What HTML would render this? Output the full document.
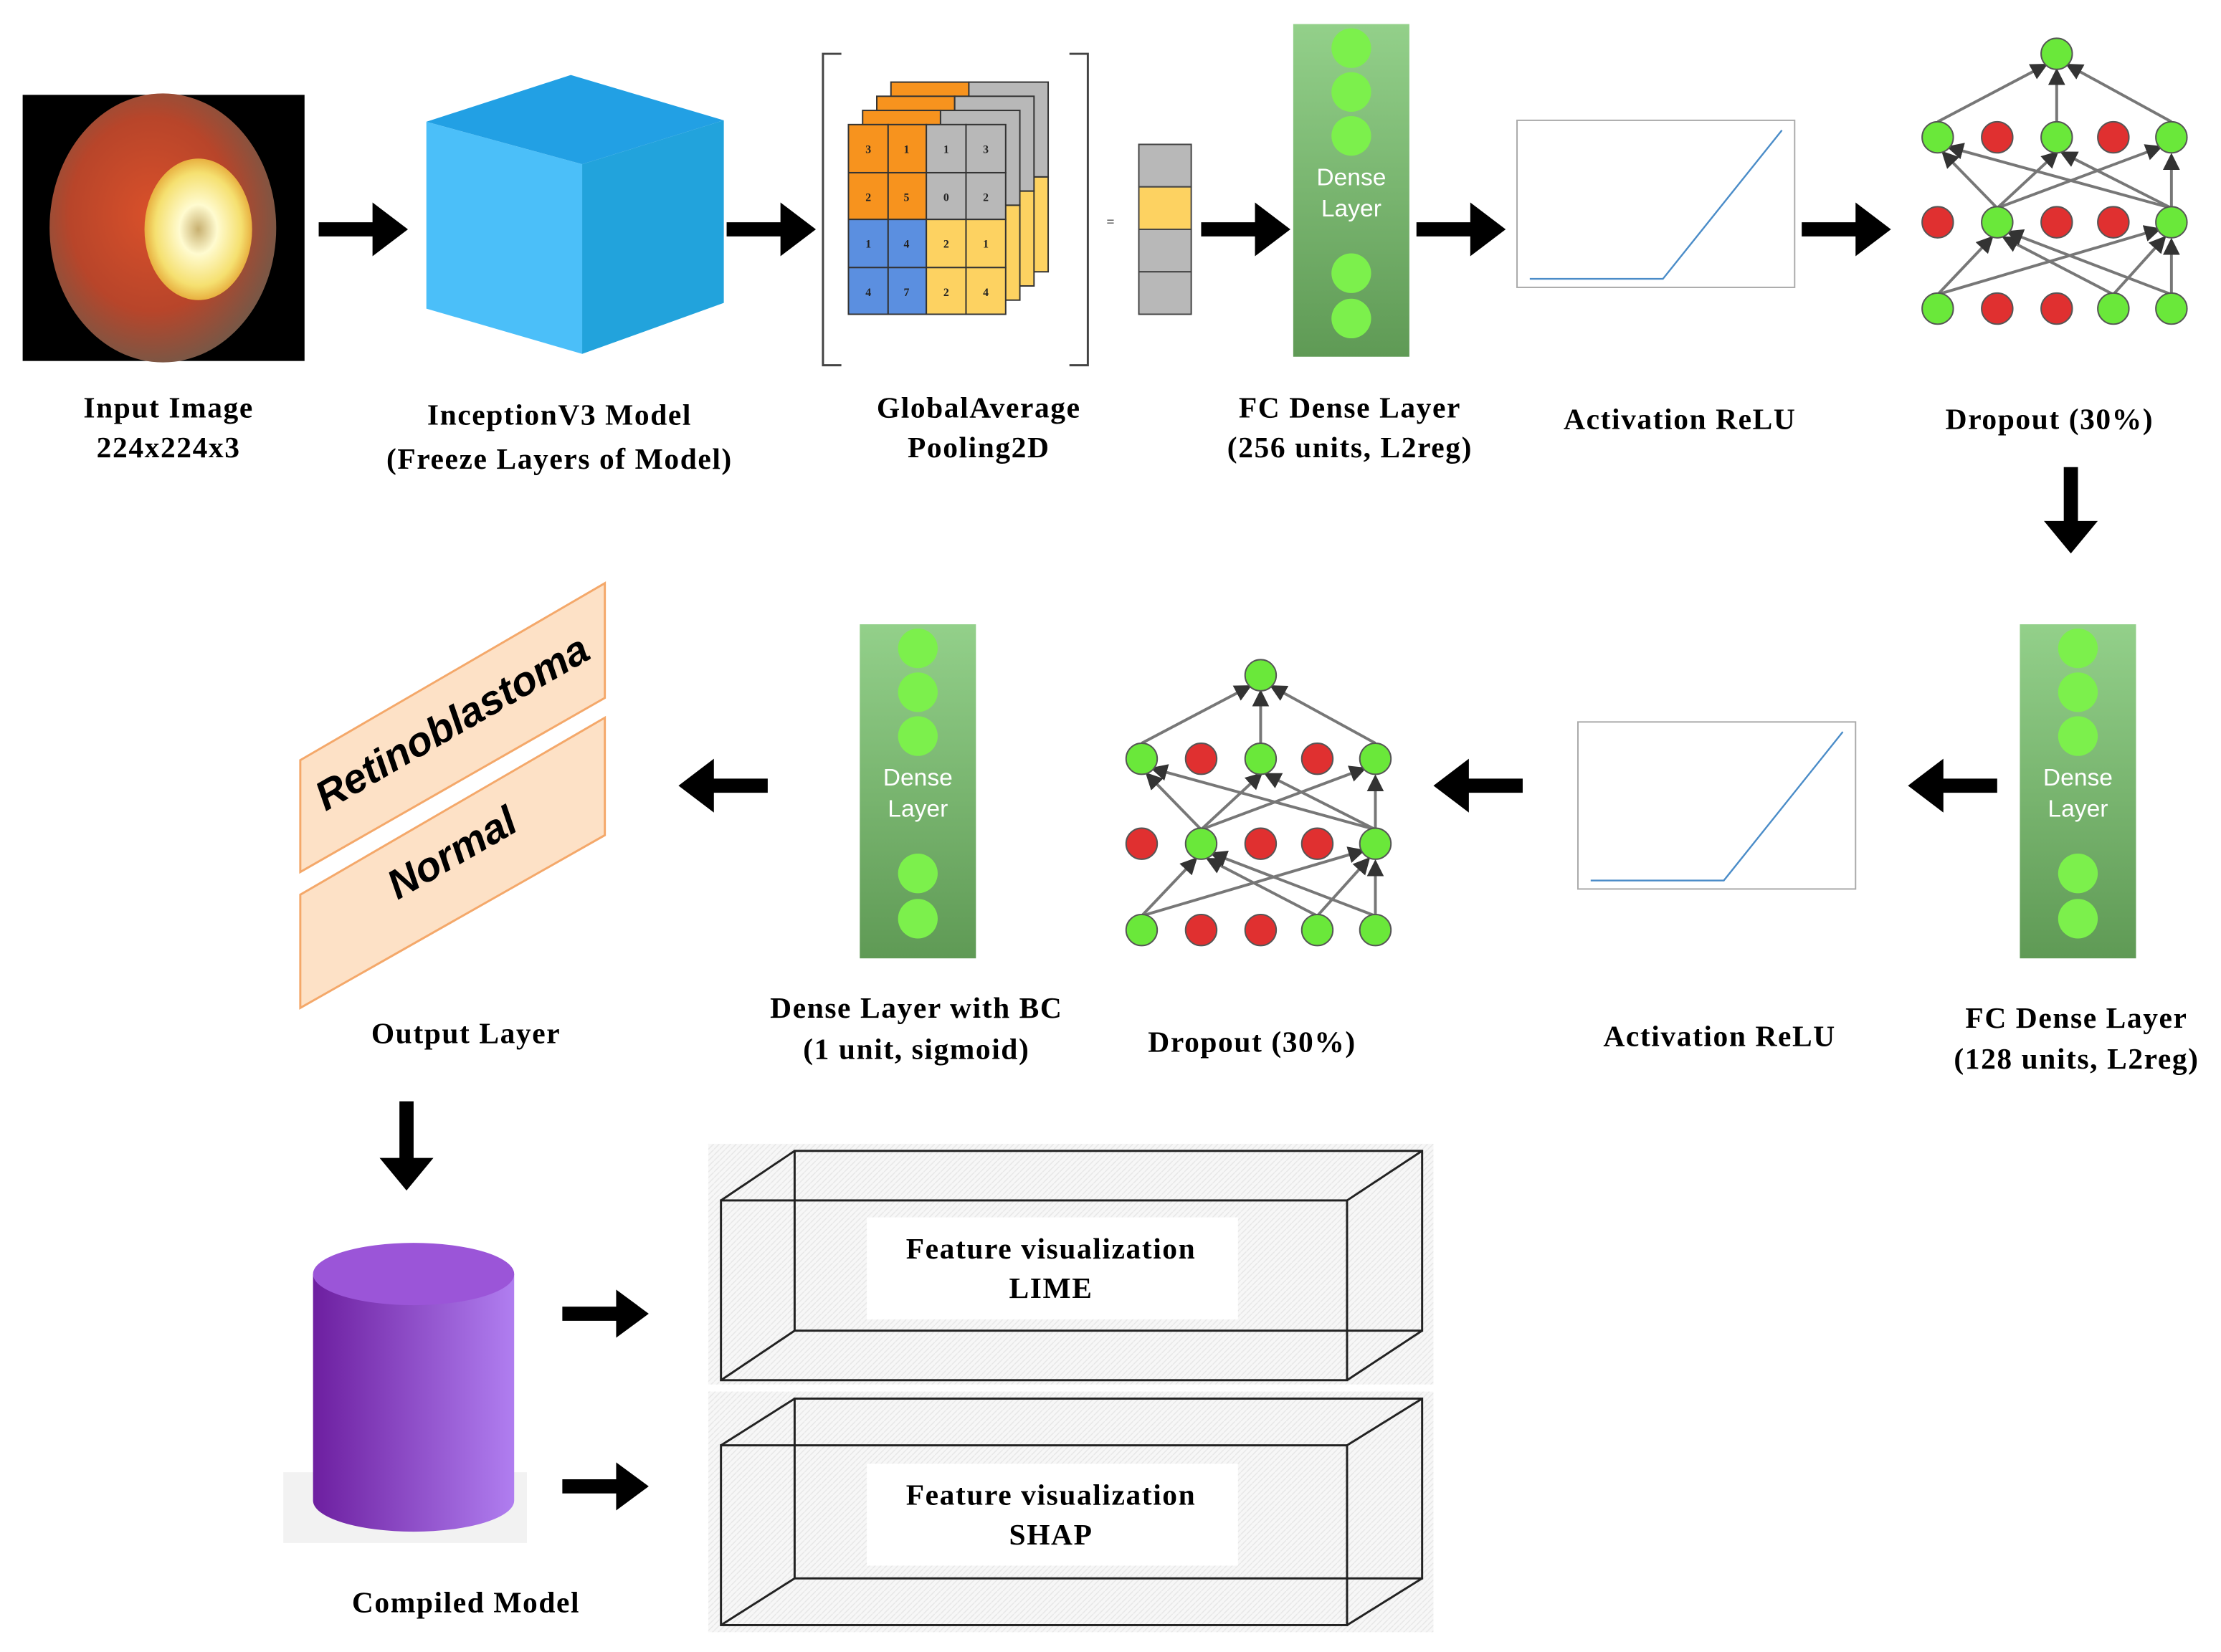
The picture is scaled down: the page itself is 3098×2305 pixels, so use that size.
<!DOCTYPE html>
<html><head><meta charset="utf-8"><style>
html,body{margin:0;padding:0;background:#fff;}
svg{display:block;}
text{font-family:"Liberation Serif",serif;font-weight:bold;}
</style></head><body>
<svg width="3098" height="2305" viewBox="0 0 1568 1167" preserveAspectRatio="none" xmlns="http://www.w3.org/2000/svg">
<defs>
<radialGradient id="eye" cx="0.45" cy="0.45" r="0.6">
<stop offset="0" stop-color="#d9502a"/><stop offset="0.6" stop-color="#b8452a"/><stop offset="1" stop-color="#6e5a4a"/></radialGradient>
<radialGradient id="blob" cx="0.5" cy="0.5" r="0.5">
<stop offset="0" stop-color="#c8b070"/><stop offset="0.35" stop-color="#fffbd0"/><stop offset="0.8" stop-color="#f5e070"/><stop offset="1" stop-color="#e8b040"/></radialGradient>
<linearGradient id="dg" x1="0" y1="0" x2="0" y2="1"><stop offset="0" stop-color="#93d08a"/><stop offset="1" stop-color="#5f9a55"/></linearGradient>
<linearGradient id="cyl" x1="0" y1="0" x2="1" y2="0"><stop offset="0" stop-color="#6d1fa0"/><stop offset="1" stop-color="#b07ef0"/></linearGradient>
<pattern id="hatch" width="4" height="4" patternUnits="userSpaceOnUse"><rect width="4" height="4" fill="#f7f7f7"/><path d="M0 4L4 0" stroke="#e6e6e6" stroke-width="0.7"/></pattern>
<marker id="ah" markerWidth="6" markerHeight="6" refX="5" refY="3" orient="auto"><path d="M0 0L6 3L0 6z" fill="#333"/></marker>
</defs>

<rect x="16" y="67" width="199" height="188" fill="#000"/>
<ellipse cx="115" cy="161" rx="80" ry="95" fill="url(#eye)"/>
<ellipse cx="140" cy="162" rx="38" ry="50" fill="url(#blob)"/>

<g fill="#000">
<path d="M225 157h38v-14l25 19l-25 19v-14h-38z"/>
<path d="M513 157h38v-14l25 19l-25 19v-14h-38z"/>
<path d="M848 157h38v-14l25 19l-25 19v-14h-38z"/>
<path d="M1000 157h38v-14l25 19l-25 19v-14h-38z"/>
<path d="M1272 157h38v-14l25 19l-25 19v-14h-38z"/>
<path d="M1457 330v38h-14l19 23l19-23h-14v-38z"/>
<path d="M1410 550h-38v-14l-25 19l25 19v-14h38z"/>
<path d="M1075 550h-38v-14l-25 19l25 19v-14h38z"/>
<path d="M542 550h-38v-14l-25 19l25 19v-14h38z"/>
<path d="M282 778v40h-14l19 23l19-23h-14v-40z"/>
<path d="M397 923h38v-12l23 17l-23 17v-12h-38z"/>
<path d="M397 1045h38v-12l23 17l-23 17v-12h-38z"/>
</g>

<polygon points="301,86 403,53 511,85 411,116" fill="#22a0e4"/>
<polygon points="301,86 411,116 411,250 301,218" fill="#4bbff9"/>
<polygon points="411,116 511,85 511,214 411,250" fill="#22a3dc"/>

<path d="M594 38h-13v220h13" fill="none" stroke="#444" stroke-width="1.5"/>
<path d="M755 38h13v220h-13" fill="none" stroke="#444" stroke-width="1.5"/>
<g stroke="#333" stroke-width="1">
<g transform="translate(30,-30)"><rect x="599" y="88" width="55" height="67" fill="#f7931e"/><rect x="654" y="88" width="56" height="67" fill="#b8b8b8"/><rect x="599" y="155" width="55" height="67" fill="#5b8fe0"/><rect x="654" y="155" width="56" height="67" fill="#fdd261"/></g>
<g transform="translate(20,-20)"><rect x="599" y="88" width="55" height="67" fill="#f7931e"/><rect x="654" y="88" width="56" height="67" fill="#b8b8b8"/><rect x="599" y="155" width="55" height="67" fill="#5b8fe0"/><rect x="654" y="155" width="56" height="67" fill="#fdd261"/></g>
<g transform="translate(10,-10)"><rect x="599" y="88" width="55" height="67" fill="#f7931e"/><rect x="654" y="88" width="56" height="67" fill="#b8b8b8"/><rect x="599" y="155" width="55" height="67" fill="#5b8fe0"/><rect x="654" y="155" width="56" height="67" fill="#fdd261"/></g>
<rect x="599" y="88" width="28" height="34" fill="#f7931e"/><rect x="627" y="88" width="27" height="34" fill="#f7931e"/>
<rect x="654" y="88" width="28" height="34" fill="#b8b8b8"/><rect x="682" y="88" width="28" height="34" fill="#b8b8b8"/>
<rect x="599" y="122" width="28" height="33" fill="#f7931e"/><rect x="627" y="122" width="27" height="33" fill="#f7931e"/>
<rect x="654" y="122" width="28" height="33" fill="#b8b8b8"/><rect x="682" y="122" width="28" height="33" fill="#b8b8b8"/>
<rect x="599" y="155" width="28" height="34" fill="#5b8fe0"/><rect x="627" y="155" width="27" height="34" fill="#5b8fe0"/>
<rect x="654" y="155" width="28" height="34" fill="#fdd261"/><rect x="682" y="155" width="28" height="34" fill="#fdd261"/>
<rect x="599" y="189" width="28" height="33" fill="#5b8fe0"/><rect x="627" y="189" width="27" height="33" fill="#5b8fe0"/>
<rect x="654" y="189" width="28" height="33" fill="#fdd261"/><rect x="682" y="189" width="28" height="33" fill="#fdd261"/>
</g>
<g font-size="8" fill="#222" text-anchor="middle" style="font-family:'Liberation Sans',sans-serif;font-weight:normal">
<text x="613" y="108">3</text><text x="640" y="108">1</text><text x="668" y="108">1</text><text x="696" y="108">3</text>
<text x="613" y="142">2</text><text x="640" y="142">5</text><text x="668" y="142">0</text><text x="696" y="142">2</text>
<text x="613" y="175">1</text><text x="640" y="175">4</text><text x="668" y="175">2</text><text x="696" y="175">1</text>
<text x="613" y="209">4</text><text x="640" y="209">7</text><text x="668" y="209">2</text><text x="696" y="209">4</text>
</g>
<text x="784" y="160" font-size="10" text-anchor="middle" fill="#555">=</text>
<g stroke="#444" stroke-width="1">
<rect x="804" y="102" width="37" height="30" fill="#b8b8b8"/>
<rect x="804" y="132" width="37" height="30" fill="#fdd261"/>
<rect x="804" y="162" width="37" height="30" fill="#b8b8b8"/>
<rect x="804" y="192" width="37" height="30" fill="#b8b8b8"/>
</g>

<g>
<rect x="913" y="17" width="82" height="235" fill="url(#dg)"/>
<g fill="#7cf04c"><circle cx="954" cy="34" r="14"/><circle cx="954" cy="65" r="14"/><circle cx="954" cy="96" r="14"/><circle cx="954" cy="193" r="14"/><circle cx="954" cy="225" r="14"/></g>
<text x="954" y="131" font-size="17" fill="#fff" text-anchor="middle" style="font-family:'Liberation Sans',sans-serif;font-weight:normal">Dense</text>
<text x="954" y="153" font-size="17" fill="#fff" text-anchor="middle" style="font-family:'Liberation Sans',sans-serif;font-weight:normal">Layer</text>
</g>
<g transform="translate(513,424)">
<rect x="913" y="17" width="82" height="236" fill="url(#dg)"/>
<g fill="#7cf04c"><circle cx="954" cy="34" r="14"/><circle cx="954" cy="65" r="14"/><circle cx="954" cy="96" r="14"/><circle cx="954" cy="193" r="14"/><circle cx="954" cy="225" r="14"/></g>
<text x="954" y="131" font-size="17" fill="#fff" text-anchor="middle" style="font-family:'Liberation Sans',sans-serif;font-weight:normal">Dense</text>
<text x="954" y="153" font-size="17" fill="#fff" text-anchor="middle" style="font-family:'Liberation Sans',sans-serif;font-weight:normal">Layer</text>
</g>
<g transform="translate(-306,424)">
<rect x="913" y="17" width="82" height="236" fill="url(#dg)"/>
<g fill="#7cf04c"><circle cx="954" cy="34" r="14"/><circle cx="954" cy="65" r="14"/><circle cx="954" cy="96" r="14"/><circle cx="954" cy="193" r="14"/><circle cx="954" cy="225" r="14"/></g>
<text x="954" y="131" font-size="17" fill="#fff" text-anchor="middle" style="font-family:'Liberation Sans',sans-serif;font-weight:normal">Dense</text>
<text x="954" y="153" font-size="17" fill="#fff" text-anchor="middle" style="font-family:'Liberation Sans',sans-serif;font-weight:normal">Layer</text>
</g>

<g>
<rect x="1071" y="85" width="196" height="118" fill="#fff" stroke="#aaa"/>
<polyline points="1080,197 1174,197 1258,92" fill="none" stroke="#4a8cc8" stroke-width="1.2"/>
</g>
<g transform="translate(43,425)">
<rect x="1071" y="85" width="196" height="118" fill="#fff" stroke="#aaa"/>
<polyline points="1080,197 1174,197 1258,92" fill="none" stroke="#4a8cc8" stroke-width="1.2"/>
</g>

<g>
<g stroke="#777" stroke-width="2" marker-end="url(#ah)">
<line x1="1368" y1="86" x2="1444" y2="46"/><line x1="1452" y1="86" x2="1452" y2="50"/><line x1="1533" y1="86" x2="1460" y2="46"/>
<line x1="1410" y1="147" x2="1372" y2="108"/><line x1="1410" y1="147" x2="1452" y2="108"/><line x1="1410" y1="147" x2="1525" y2="104"/>
<line x1="1533" y1="147" x2="1376" y2="104"/><line x1="1533" y1="147" x2="1456" y2="108"/><line x1="1533" y1="147" x2="1533" y2="110"/>
<line x1="1368" y1="208" x2="1406" y2="168"/><line x1="1368" y1="208" x2="1524" y2="162"/>
<line x1="1492" y1="208" x2="1415" y2="168"/><line x1="1492" y1="208" x2="1528" y2="168"/>
<line x1="1533" y1="208" x2="1418" y2="164"/><line x1="1533" y1="208" x2="1533" y2="170"/>
</g>
<g stroke="#555" stroke-width="1">
<circle cx="1452" cy="38" r="11" fill="#6ae83a"/>
<circle cx="1368" cy="97" r="11" fill="#6ae83a"/><circle cx="1410" cy="97" r="11" fill="#e03030"/><circle cx="1452" cy="97" r="11" fill="#6ae83a"/><circle cx="1492" cy="97" r="11" fill="#e03030"/><circle cx="1533" cy="97" r="11" fill="#6ae83a"/>
<circle cx="1368" cy="157" r="11" fill="#e03030"/><circle cx="1410" cy="157" r="11" fill="#6ae83a"/><circle cx="1452" cy="157" r="11" fill="#e03030"/><circle cx="1492" cy="157" r="11" fill="#e03030"/><circle cx="1533" cy="157" r="11" fill="#6ae83a"/>
<circle cx="1368" cy="218" r="11" fill="#6ae83a"/><circle cx="1410" cy="218" r="11" fill="#e03030"/><circle cx="1452" cy="218" r="11" fill="#e03030"/><circle cx="1492" cy="218" r="11" fill="#6ae83a"/><circle cx="1533" cy="218" r="11" fill="#6ae83a"/>
</g>
</g>
<g transform="translate(-562,439)">
<g stroke="#777" stroke-width="2" marker-end="url(#ah)">
<line x1="1368" y1="86" x2="1444" y2="46"/><line x1="1452" y1="86" x2="1452" y2="50"/><line x1="1533" y1="86" x2="1460" y2="46"/>
<line x1="1410" y1="147" x2="1372" y2="108"/><line x1="1410" y1="147" x2="1452" y2="108"/><line x1="1410" y1="147" x2="1525" y2="104"/>
<line x1="1533" y1="147" x2="1376" y2="104"/><line x1="1533" y1="147" x2="1456" y2="108"/><line x1="1533" y1="147" x2="1533" y2="110"/>
<line x1="1368" y1="208" x2="1406" y2="168"/><line x1="1368" y1="208" x2="1524" y2="162"/>
<line x1="1492" y1="208" x2="1415" y2="168"/><line x1="1492" y1="208" x2="1528" y2="168"/>
<line x1="1533" y1="208" x2="1418" y2="164"/><line x1="1533" y1="208" x2="1533" y2="170"/>
</g>
<g stroke="#555" stroke-width="1">
<circle cx="1452" cy="38" r="11" fill="#6ae83a"/>
<circle cx="1368" cy="97" r="11" fill="#6ae83a"/><circle cx="1410" cy="97" r="11" fill="#e03030"/><circle cx="1452" cy="97" r="11" fill="#6ae83a"/><circle cx="1492" cy="97" r="11" fill="#e03030"/><circle cx="1533" cy="97" r="11" fill="#6ae83a"/>
<circle cx="1368" cy="157" r="11" fill="#e03030"/><circle cx="1410" cy="157" r="11" fill="#6ae83a"/><circle cx="1452" cy="157" r="11" fill="#e03030"/><circle cx="1492" cy="157" r="11" fill="#e03030"/><circle cx="1533" cy="157" r="11" fill="#6ae83a"/>
<circle cx="1368" cy="218" r="11" fill="#6ae83a"/><circle cx="1410" cy="218" r="11" fill="#e03030"/><circle cx="1452" cy="218" r="11" fill="#e03030"/><circle cx="1492" cy="218" r="11" fill="#6ae83a"/><circle cx="1533" cy="218" r="11" fill="#6ae83a"/>
</g>
</g>

<polygon points="212,537 427,412 427,493 212,616" fill="#fde1c6" stroke="#f4a86a" stroke-width="1.5"/>
<polygon points="212,632 427,507 427,590 212,712" fill="#fde1c6" stroke="#f4a86a" stroke-width="1.5"/>
<text x="320" y="520" font-size="29" font-style="italic" text-anchor="middle" transform="rotate(-30 320 512)" style="font-family:'Liberation Sans',sans-serif">Retinoblastoma</text>
<text x="320" y="612" font-size="29" font-style="italic" text-anchor="middle" transform="rotate(-30 320 604)" style="font-family:'Liberation Sans',sans-serif">Normal</text>

<rect x="200" y="1040" width="172" height="50" fill="#ececec" opacity="0.7"/>
<path d="M221 900v160a71 22 0 0 0 142 0v-160z" fill="url(#cyl)"/>
<ellipse cx="292" cy="900" rx="71" ry="22" fill="#9b55d8"/>

<g fill="none" stroke="#222" stroke-width="1.5">
<rect x="500" y="808" width="512" height="170" fill="url(#hatch)" stroke="none"/>
<rect x="561" y="813" width="443" height="127"/>
<rect x="509" y="848" width="442" height="127"/>
<line x1="509" y1="848" x2="561" y2="813"/><line x1="951" y1="848" x2="1004" y2="813"/>
<line x1="509" y1="975" x2="561" y2="940"/><line x1="951" y1="975" x2="1004" y2="940"/>
<rect x="612" y="860" width="262" height="72" fill="#fff" stroke="none"/>
</g>
<g fill="none" stroke="#222" stroke-width="1.5">
<rect x="500" y="983" width="512" height="170" fill="url(#hatch)" stroke="none"/>
<rect x="561" y="988" width="443" height="127"/>
<rect x="509" y="1021" width="442" height="127"/>
<line x1="509" y1="1021" x2="561" y2="988"/><line x1="951" y1="1021" x2="1004" y2="988"/>
<line x1="509" y1="1148" x2="561" y2="1115"/><line x1="951" y1="1148" x2="1004" y2="1115"/>
<rect x="612" y="1034" width="262" height="72" fill="#fff" stroke="none"/>
</g>

<g font-size="21" text-anchor="middle" fill="#000" letter-spacing="0.8">
<text x="119" y="295">Input Image</text><text x="119" y="323">224x224x3</text>
<text x="395" y="300">InceptionV3 Model</text><text x="395" y="331">(Freeze Layers of Model)</text>
<text x="691" y="295">GlobalAverage</text><text x="691" y="323">Pooling2D</text>
<text x="953" y="295">FC Dense Layer</text><text x="953" y="323">(256 units, L2reg)</text>
<text x="1186" y="303">Activation ReLU</text>
<text x="1447" y="303">Dropout (30%)</text>
<text x="329" y="737">Output Layer</text>
<text x="647" y="719">Dense Layer with BC</text><text x="647" y="748">(1 unit, sigmoid)</text>
<text x="884" y="743">Dropout (30%)</text>
<text x="1214" y="739">Activation ReLU</text>
<text x="1466" y="726">FC Dense Layer</text><text x="1466" y="755">(128 units, L2reg)</text>
<text x="329" y="1139">Compiled Model</text>
<text x="742" y="889">Feature visualization</text><text x="742" y="917">LIME</text>
<text x="742" y="1063">Feature visualization</text><text x="742" y="1091">SHAP</text>
</g>
</svg>
</body></html>
